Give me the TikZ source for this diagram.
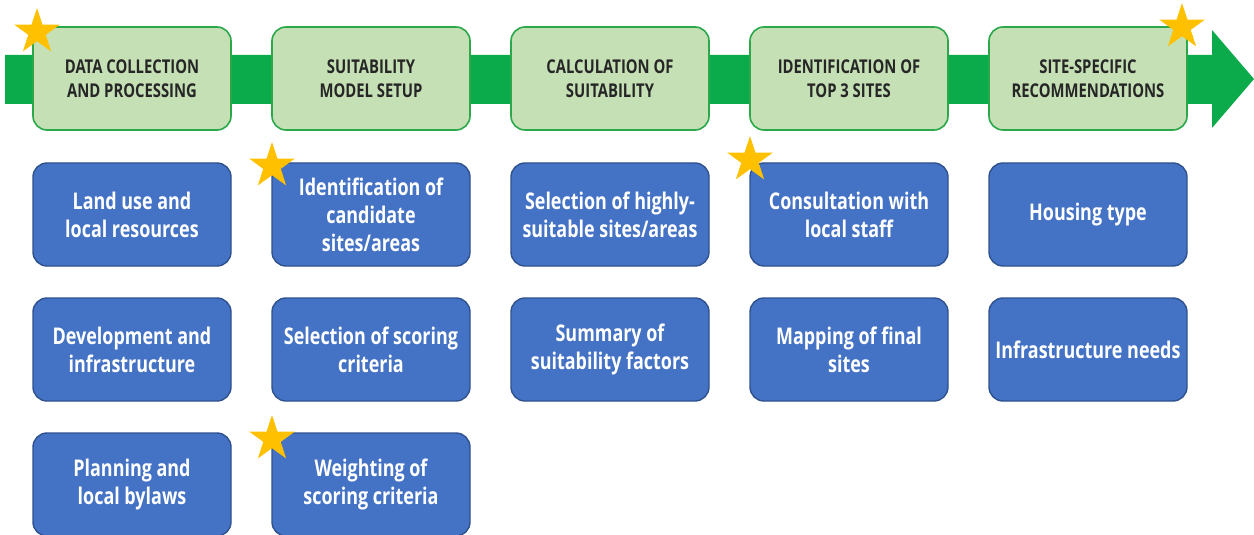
\documentclass[tikz,border=0pt]{standalone}
\usepackage{fontspec}
\newfontfamily\boxfont{Open Sans}[FakeStretch=0.78]
\usetikzlibrary{shapes.geometric}

\definecolor{flowgreen}{HTML}{0BAA4B}
\definecolor{phasefill}{HTML}{C5E0B4}
\definecolor{phaseline}{HTML}{2BA84A}
\definecolor{phasetext}{HTML}{262626}
\definecolor{taskfill}{HTML}{4472C4}
\definecolor{taskline}{HTML}{2F528F}
\definecolor{stargold}{HTML}{FFC000}

\tikzset{
  phase/.style={draw=phaseline, line width=0.8pt, fill=phasefill, rounded corners=7pt,
    minimum width=99pt, minimum height=51.5pt, align=center, text=phasetext,
    font=\boxfont\bfseries\fontsize{9.5}{12}\selectfont},
  task/.style={draw=taskline, line width=0.7pt, fill=taskfill, rounded corners=7pt,
    minimum width=99pt, minimum height=51.5pt, inner xsep=1pt, align=center, text=white,
    font=\boxfont\bfseries\fontsize{11.5}{14}\selectfont},
  goldstar/.style={star, star points=5, star point ratio=2.6, fill=stargold,
    minimum size=24pt, inner sep=0pt}
}

\begin{document}
\begin{tikzpicture}[x=0.5pt, y=-0.5pt]
\clip (0,0) rectangle (1254,535);

% process arrow
\fill[flowgreen] (5,55) -- (1212,55) -- (1212,30) -- (1254,79)
  -- (1212,128) -- (1212,104) -- (5,104) -- cycle;

% phases
\node[phase] (collect) at (132,78.5) {DATA COLLECTION\\AND PROCESSING};
\node[phase] (setup) at (371,78.5) {SUITABILITY\\MODEL SETUP};
\node[phase] (calc) at (610,78.5) {CALCULATION OF\\SUITABILITY};
\node[phase] (topthree) at (849,78.5) {IDENTIFICATION OF\\TOP 3 SITES};
\node[phase] (recommend) at (1088,78.5) {SITE-SPECIFIC\\RECOMMENDATIONS};

% tasks
\node[task] (landuse) at (132,214.5) {Land use and\\local resources};
\node[task] (develop) at (132,349.5) {Development and\\infrastructure};
\node[task] (bylaws) at (132,484.5) {Planning and\\local bylaws};

\node[task] (candidates) at (371,214.5) {Identification of\\candidate\\sites/areas};
\node[task] (criteria) at (371,349.5) {Selection of scoring\\criteria};
\node[task] (weights) at (371,484.5) {Weighting of\\scoring criteria};

\node[task] (highly) at (610,214.5) {Selection of highly-\\suitable sites/areas};
\node[task] (factors) at (610,349.5) {Summary of\\suitability factors};

\node[task] (consult) at (849,214.5) {Consultation with\\local staff};
\node[task] (mapping) at (849,349.5) {Mapping of final\\sites};

\node[task] (housing) at (1088,214.5) {Housing type};
\node[task] (infra) at (1088,349.5) {Infrastructure needs};

% stars
\node[goldstar] (star1) at (37,32) {};
\node[goldstar] (star2) at (1182,27) {};
\node[goldstar] (star3) at (272,166) {};
\node[goldstar] (star4) at (750,160) {};
\node[goldstar] (star5) at (272,439) {};
\end{tikzpicture}
\end{document}
